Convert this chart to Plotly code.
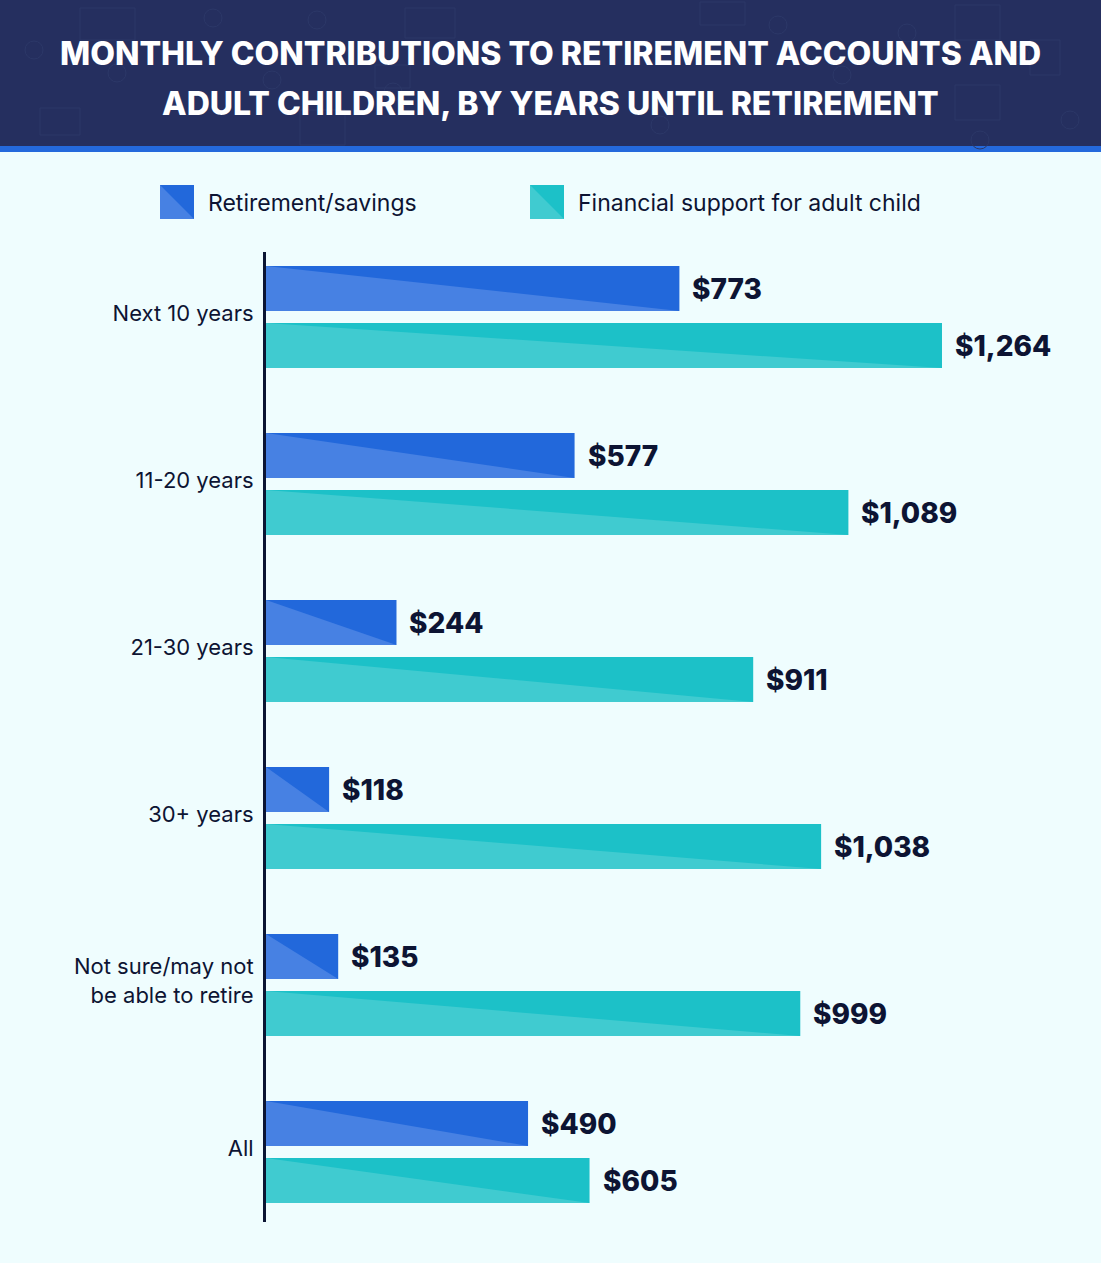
import plotly.graph_objects as go

# ---- data ----
categories = ["Next 10 years", "11-20 years", "21-30 years", "30+ years",
              "Not sure/may not<br>be able to retire", "All"]
retirement_savings = [773, 577, 244, 118, 135, 490]
adult_child_support = [1264, 1089, 911, 1038, 999, 605]
series_names = ["Retirement/savings", "Financial support for adult child"]
title_lines = ["MONTHLY CONTRIBUTIONS TO RETIREMENT ACCOUNTS AND",
               "ADULT CHILDREN, BY YEARS UNTIL RETIREMENT"]

# ---- style ----
W, H = 1101, 1263
BG = "#effdfe"
NAVY = "#252f5f"
ICON = "#2c3868"
STRIPE = "#2469dc"
TEXT = "#0d1433"
BLUE_D, BLUE_L = "#2268db", "#4781e3"
TEAL_D, TEAL_L = "#1cc1c8", "#40cbd0"
FONT = "Inter"

GROUP_PX, BAR_PX, GAP_PX = 167, 45, 12
OFF = (BAR_PX + GAP_PX) / 2 / GROUP_PX
BW = BAR_PX / GROUP_PX
LABEL_SHIFT = 4 / GROUP_PX
M_L, M_R, M_T, M_B = 266, 50, 252, 41
PX_PER_UNIT = 0.5348
x_max = (W - M_L - M_R) / PX_PER_UNIT
y_top = -65 / GROUP_PX
y_bot = len(categories) - 1 + 70 / GROUP_PX

fig = go.Figure()
series = [(retirement_savings, -OFF, BLUE_D, BLUE_L, series_names[0]),
          (adult_child_support, OFF, TEAL_D, TEAL_L, series_names[1])]

for vals, off, dark, light, name in series:
    ys = [i + off for i in range(len(vals))]
    fig.add_trace(go.Bar(x=vals, y=ys, orientation="h", width=BW,
                         marker=dict(color=dark, line=dict(width=0)),
                         name=name, showlegend=False,
                         hovertemplate="%{x}<extra>" + name + "</extra>"))
    for v, yc in zip(vals, ys):
        h = BW / 2
        fig.add_trace(go.Scatter(x=[0, 0, v, 0], y=[yc - h, yc + h, yc + h, yc - h],
                                 fill="toself", fillcolor=light, mode="lines",
                                 line=dict(width=0), hoverinfo="skip",
                                 showlegend=False))
    for v, yc in zip(vals, ys):
        fig.add_annotation(x=v, y=yc, text=f"${v:,}", showarrow=False,
                           xanchor="left", yanchor="middle", xshift=11,
                           font=dict(family=FONT, size=28, color=TEXT, weight=800))

PW, PH = W - M_L - M_R, H - M_T - M_B
def px(x):
    return (x - M_L) / PW
def py(y):
    return 1 - (y - M_T) / PH

shapes = [
    dict(type="rect", xref="paper", yref="paper", x0=px(0), x1=px(W), y0=py(146), y1=py(0),
         fillcolor=NAVY, line=dict(width=0), layer="below"),
    dict(type="rect", xref="paper", yref="paper", x0=px(0), x1=px(W), y0=py(152), y1=py(146),
         fillcolor=STRIPE, line=dict(width=0), layer="below"),
]

# faint decorative icons in the header (banknotes, cards, coins)
deco_rects = [(80, 8, 135, 40), (375, 65, 410, 88), (300, 110, 345, 145), (405, 8, 455, 38),
              (955, 85, 1000, 120), (955, 5, 1000, 40), (40, 108, 80, 135), (700, 2, 745, 25),
              (1030, 40, 1060, 75)]
for x0, y0, x1, y1 in deco_rects:
    shapes.append(dict(type="rect", xref="paper", yref="paper", x0=px(x0), x1=px(x1),
                       y0=py(y1), y1=py(y0), line=dict(color=ICON, width=1), layer="below"))
deco_coins = [(34, 50), (213, 18), (317, 20), (117, 73), (272, 80), (393, 92), (778, 25), (907, 33),
              (842, 75), (1020, 55), (1070, 120), (980, 140), (660, 125)]
for cx, cy in deco_coins:
    r = 9
    shapes.append(dict(type="circle", xref="paper", yref="paper", x0=px(cx - r), x1=px(cx + r),
                       y0=py(cy + r), y1=py(cy - r), line=dict(color=ICON, width=1), layer="below"))

# legend swatches
for lx, dark, light, name in [(160, BLUE_D, BLUE_L, series_names[0]),
                              (530, TEAL_D, TEAL_L, series_names[1])]:
    x0, x1, y0, y1 = lx, lx + 34, 185, 219
    shapes.append(dict(type="path", xref="paper", yref="paper",
                       path=f"M {px(x0)},{py(y0)} L {px(x1)},{py(y0)} L {px(x1)},{py(y1)} L {px(x0)},{py(y1)} Z",
                       fillcolor=dark, line=dict(width=0)))
    shapes.append(dict(type="path", xref="paper", yref="paper",
                       path=f"M {px(x0)},{py(y0)} L {px(x1)},{py(y1)} L {px(x0)},{py(y1)} Z",
                       fillcolor=light, line=dict(width=0)))
    fig.add_annotation(xref="paper", yref="paper", x=px(x1 + 12), y=py(203),
                       text=name, showarrow=False, xanchor="left", yanchor="middle",
                       font=dict(family=FONT, size=23, color=TEXT))

for t, yy in zip(title_lines, [53, 103]):
    fig.add_annotation(xref="paper", yref="paper", x=px(W / 2), y=py(yy), text=t,
                       showarrow=False, xanchor="center", yanchor="middle",
                       font=dict(family=FONT, size=32, color="white", weight=800))

fig.update_layout(
    width=W, height=H, paper_bgcolor=BG, plot_bgcolor=BG,
    margin=dict(l=M_L, r=M_R, t=M_T, b=M_B, pad=0),
    shapes=shapes, showlegend=False, barmode="overlay",
    xaxis=dict(range=[0, x_max], visible=False, fixedrange=True),
    yaxis=dict(range=[y_bot, y_top],
               tickvals=[i - LABEL_SHIFT for i in range(len(categories))],
               ticktext=categories, showline=True, linecolor="#0b1533", linewidth=3,
               ticks="", showgrid=False, zeroline=False, ticklabelstandoff=5,
               tickfont=dict(family=FONT, size=22, color=TEXT), fixedrange=True),
    font=dict(family=FONT),
)

fig.write_html("out.html", config=dict(displayModeBar=False),
               post_script="document.body.style.margin='0';document.body.style.overflow='hidden';")
